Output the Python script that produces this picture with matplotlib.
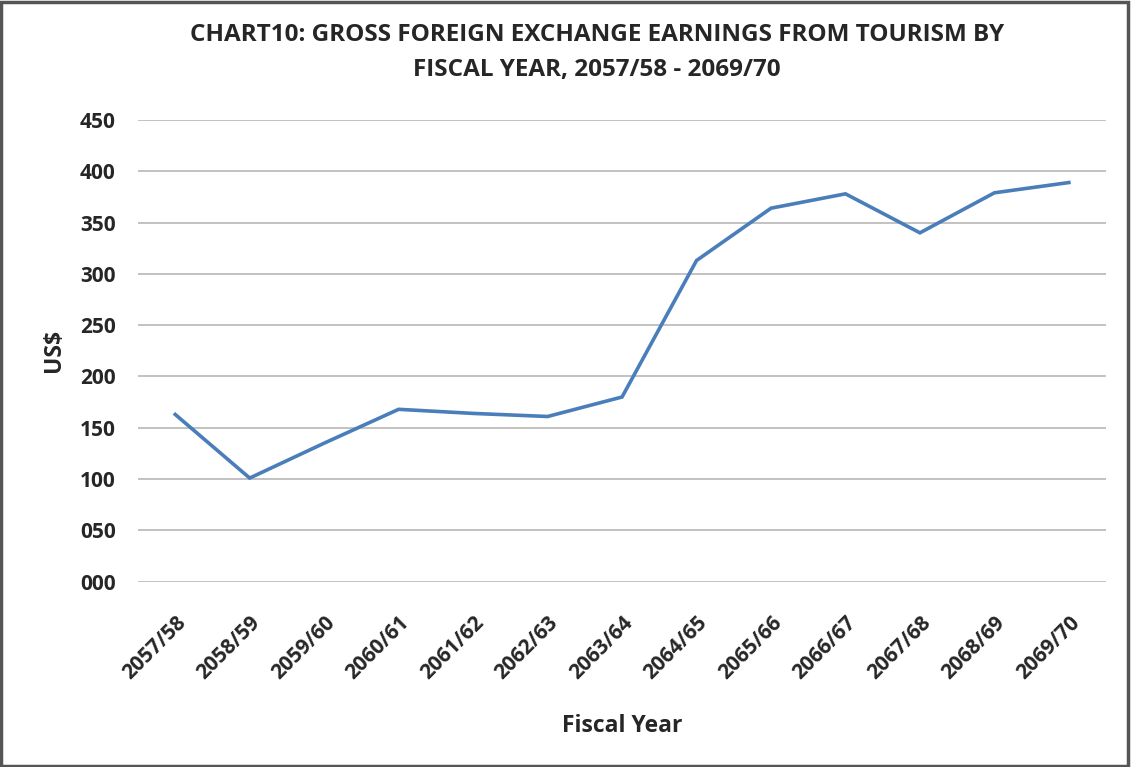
import matplotlib
matplotlib.use('Agg')
import matplotlib.pyplot as plt
from matplotlib.patches import Rectangle

# fiscal years and gross earnings (US$)
years = ['2057/58', '2058/59', '2059/60', '2060/61', '2061/62', '2062/63', '2063/64',
         '2064/65', '2065/66', '2066/67', '2067/68', '2068/69', '2069/70']
earnings = [163, 101, 135, 168, 164, 161, 180, 313, 364, 378, 340, 379, 389]
yticks = [0, 50, 100, 150, 200, 250, 300, 350, 400, 450]
ytick_labels = ['%03d' % v for v in yticks]

plt.rcParams['font.family'] = ['Open Sans', 'DejaVu Sans']
plt.rcParams['font.weight'] = 'bold'

fig = plt.figure(figsize=(11.31, 7.67), dpi=100)
ax = fig.add_axes([0.122, 0.2416, 0.856, 0.602])

x = range(len(years))
ax.plot(x, earnings, color='#4A7EBB', linewidth=2.6, solid_joinstyle='miter')

ax.set_xlim(-0.5, len(years) - 0.5)
ax.set_ylim(0, 450)
ax.set_yticks(yticks)
ax.set_yticklabels(ytick_labels, fontsize=15, fontweight='bold', color='#262626')
ax.set_xticks(list(x))
ax.set_xticklabels(years, rotation=45, ha='right', rotation_mode='anchor',
                   fontsize=15, fontweight='bold', color='#262626')
ax.tick_params(length=0, pad=16, axis='y')
ax.tick_params(length=0, pad=22, axis='x')
ax.grid(axis='y', color='#BDBDBD', linewidth=1.3)
ax.set_axisbelow(True)
for s in ax.spines.values():
    s.set_visible(False)

ax.set_ylabel('US$', fontsize=16.5, fontweight='bold', color='#262626', labelpad=10)
ax.set_xlabel('Fiscal Year', fontsize=16.5, fontweight='bold', color='#262626', labelpad=22)

fig.text(0.528, 0.954, 'CHART10: GROSS FOREIGN EXCHANGE EARNINGS FROM TOURISM BY',
         ha='center', va='center', fontsize=17.5, fontweight='bold', color='#262626')
fig.text(0.528, 0.909, 'FISCAL YEAR, 2057/58 - 2069/70',
         ha='center', va='center', fontsize=17.5, fontweight='bold', color='#262626')

# outer frame of the chart
fig.patches.append(Rectangle((0.001, 0.001), 0.996, 0.997, transform=fig.transFigure,
                             fill=False, edgecolor='#555555', linewidth=2.5))

fig.savefig('out.png', dpi=100)
